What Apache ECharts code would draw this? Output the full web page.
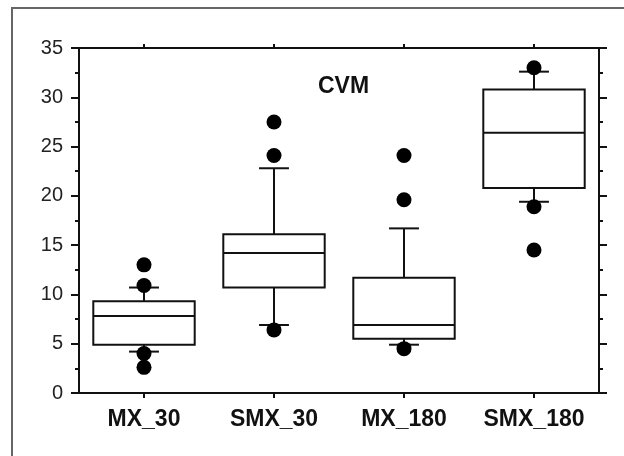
<!DOCTYPE html>
<html>
<head>
<meta charset="utf-8">
<script src="https://cdn.jsdelivr.net/npm/echarts@6/dist/echarts.min.js"></script>
<style>
  html, body { margin: 0; padding: 0; background: #fff; }
  #chart { width: 624px; height: 456px; }
</style>
</head>
<body>
<div id="chart"></div>
<script>
// ============ CVM 箱线图 ============
const categories = ['MX_30', 'SMX_30', 'MX_180', 'SMX_180'];
const whiskerLow = [4.2, 6.9, 4.9, 19.4];
const q1 = [4.9, 10.7, 5.5, 20.8];
const median = [7.8, 14.2, 6.9, 26.4];
const q3 = [9.3, 16.1, 11.7, 30.8];
const whiskerHigh = [10.7, 22.8, 16.7, 32.6];
// [类别序号, 值]
const outliers = [
  [0, 13.0], [0, 10.9], [0, 4.0], [0, 2.6],
  [1, 27.5], [1, 24.1], [1, 6.4],
  [2, 24.1], [2, 19.6], [2, 4.5],
  [3, 33.0], [3, 18.9], [3, 14.5],
];
const yTicks = { min: 0, max: 35, interval: 5 };

const boxData = categories.map((c, i) => [i, whiskerLow[i], q1[i], median[i], q3[i], whiskerHigh[i]]);

function renderBox(params, api) {
  const idx = api.value(0);
  const band = api.size([1, 0])[0];
  const boxW = band * 0.78;
  const capW = band * 0.23;
  const pLow = api.coord([idx, api.value(1)]);
  const pQ1 = api.coord([idx, api.value(2)]);
  const pMed = api.coord([idx, api.value(3)]);
  const pQ3 = api.coord([idx, api.value(4)]);
  const pHigh = api.coord([idx, api.value(5)]);
  const x = pQ1[0];
  const st = { stroke: '#111', lineWidth: 2, fill: null };
  return {
    type: 'group',
    children: [
      { type: 'line', shape: { x1: x, y1: pQ3[1], x2: x, y2: pHigh[1] }, style: st },
      { type: 'line', shape: { x1: x, y1: pQ1[1], x2: x, y2: pLow[1] }, style: st },
      { type: 'line', shape: { x1: x - capW / 2, y1: pHigh[1], x2: x + capW / 2, y2: pHigh[1] }, style: st },
      { type: 'line', shape: { x1: x - capW / 2, y1: pLow[1], x2: x + capW / 2, y2: pLow[1] }, style: st },
      { type: 'rect', shape: { x: x - boxW / 2, y: pQ3[1], width: boxW, height: pQ1[1] - pQ3[1] }, style: { stroke: '#111', lineWidth: 2, fill: '#fff' } },
      { type: 'line', shape: { x1: x - boxW / 2, y1: pMed[1], x2: x + boxW / 2, y2: pMed[1] }, style: st },
    ],
  };
}

const axisLine = { show: true, onZero: false, lineStyle: { color: '#111', width: 2 } };
const tickStyle = { color: '#111', width: 2 };

const chart = echarts.init(document.getElementById('chart'));
chart.setOption({
  animation: false,
  backgroundColor: '#fff',
  title: {
    text: 'CVM',
    left: 313,
    top: 70,
    textStyle: { fontFamily: 'Liberation Sans, Arial', fontWeight: 'bold', fontSize: 23, color: '#111' },
  },
  graphic: [{
    type: 'polyline',
    shape: { points: [[12, 456], [12, 8], [624, 8]] },
    style: { stroke: '#666', lineWidth: 2, fill: null },
    silent: true,
  }],
  grid: { left: 79, right: 25, top: 48, bottom: 63 },
  xAxis: [
    {
      type: 'category', data: categories, position: 'bottom',
      axisLine: axisLine,
      axisTick: { show: true, alignWithLabel: true, length: 5, lineStyle: tickStyle },
      axisLabel: { interval: 0, hideOverlap: false, margin: 15, fontFamily: 'Liberation Sans, Arial', fontWeight: 'bold', fontSize: 23, color: '#111' },
      splitLine: { show: false },
    },
    {
      type: 'category', data: categories, position: 'top',
      axisLine: axisLine,
      axisTick: { show: true, alignWithLabel: true, length: 4, lineStyle: tickStyle },
      axisLabel: { show: false },
      splitLine: { show: false },
    },
  ],
  yAxis: [
    {
      type: 'value', position: 'left', min: yTicks.min, max: yTicks.max, interval: yTicks.interval,
      axisLine: axisLine,
      axisTick: { show: true, length: 8, lineStyle: tickStyle },
      minorTick: { show: true, splitNumber: 2, length: 4, lineStyle: tickStyle },
      axisLabel: { margin: 16, fontFamily: 'Liberation Sans, Arial', fontSize: 20, color: '#222' },
      splitLine: { show: false },
    },
    {
      type: 'value', position: 'right', min: yTicks.min, max: yTicks.max, interval: yTicks.interval,
      axisLine: axisLine,
      axisTick: { show: true, length: 8, lineStyle: tickStyle },
      minorTick: { show: true, splitNumber: 2, length: 4, lineStyle: tickStyle },
      axisLabel: { show: false },
      splitLine: { show: false },
    },
  ],
  series: [
    {
      type: 'custom',
      xAxisIndex: 0, yAxisIndex: 0,
      renderItem: renderBox,
      encode: { x: 0, y: [1, 2, 3, 4, 5] },
      data: boxData,
      z: 2,
    },
    {
      type: 'scatter',
      xAxisIndex: 0, yAxisIndex: 0,
      symbol: 'circle',
      symbolSize: 15,
      itemStyle: { color: '#000', opacity: 1 },
      data: outliers,
      z: 3,
    },
  ],
});
</script>
</body>
</html>
